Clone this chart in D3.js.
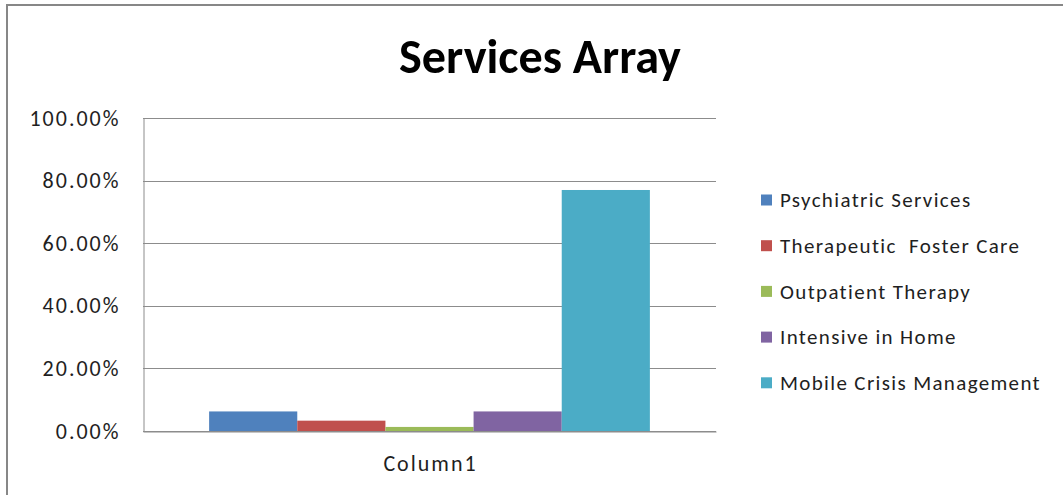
<!DOCTYPE html>
<html>
<head>
<meta charset="utf-8">
<script src="https://cdn.jsdelivr.net/npm/d3@7"></script>
<style>
  html, body { margin: 0; padding: 0; background: #fff; }
  svg { display: block; }
</style>
</head>
<body>
<svg id="chart" width="1063" height="495"></svg>
<script>
const title = "Services Array";
const category = "Column1";
const seriesNames = ["Psychiatric Services", "Therapeutic  Foster Care", "Outpatient Therapy", "Intensive in Home", "Mobile Crisis Management"];
const seriesValues = [0.0625, 0.033, 0.013, 0.0625, 0.77];
const seriesColors = ["#4f81bd", "#c0504d", "#9bbb59", "#8064a2", "#4bacc6"];
const yTicks = [0, 0.2, 0.4, 0.6, 0.8, 1.0];

const svg = d3.select("#chart");
const W = 1063, H = 495;
const plot = { left: 143, right: 716, top: 118, bottom: 431 };
const font = "Carlito, Calibri, 'Open Sans', 'Liberation Sans', sans-serif";
const textColor = "#1f1f1f";

// chart border (left and top visible)
svg.append("line").attr("x1", 7).attr("x2", 7).attr("y1", 4).attr("y2", H)
  .attr("stroke", "#878787").attr("stroke-width", 2);
svg.append("line").attr("x1", 6).attr("x2", W).attr("y1", 5).attr("y2", 5)
  .attr("stroke", "#878787").attr("stroke-width", 2);

const y = d3.scaleLinear().domain([0, 1]).range([plot.bottom, plot.top]);
const x0 = d3.scaleBand().domain([category]).range([plot.left, plot.right]).paddingInner(0).paddingOuter(0.15);
const x1 = d3.scaleBand().domain(seriesNames).range([0, x0.bandwidth()]).padding(0);

// gridlines
svg.append("g").selectAll("line").data(yTicks).join("line")
  .attr("x1", plot.left).attr("x2", plot.right)
  .attr("y1", d => Math.round(y(d)) + 0.5).attr("y2", d => Math.round(y(d)) + 0.5)
  .attr("stroke", "#8c8c8c").attr("stroke-width", 1);

// y axis
const yAxis = svg.append("g").attr("transform", `translate(${plot.left + 0.5},0)`)
  .call(d3.axisLeft(y).tickValues(yTicks).tickSize(0).tickPadding(23)
    .tickFormat(d => (d * 100).toFixed(2) + "%"));
yAxis.select(".domain").attr("stroke", "#8c8c8c");
yAxis.selectAll("text").attr("font-family", font).attr("font-size", 22)
  .attr("letter-spacing", 2).attr("fill", textColor);

// bars
svg.append("g").selectAll("rect").data(seriesNames).join("rect")
  .attr("x", (d) => x0(category) + x1(d))
  .attr("width", x1.bandwidth())
  .attr("y", (d, i) => y(seriesValues[i]))
  .attr("height", (d, i) => plot.bottom - y(seriesValues[i]))
  .attr("fill", (d, i) => seriesColors[i]);

// x axis
const xAxis = svg.append("g").attr("transform", `translate(0,${plot.bottom + 0.5})`)
  .call(d3.axisBottom(x0).tickSize(0).tickPadding(24));
xAxis.select(".domain").attr("stroke", "#8c8c8c");
xAxis.selectAll("text").attr("font-family", font).attr("font-size", 22)
  .attr("letter-spacing", 2).attr("dx", 1).attr("fill", textColor);

// title
const t = svg.append("text").attr("x", 540).attr("y", 73).attr("text-anchor", "middle")
  .attr("font-family", font).attr("font-weight", "bold").attr("font-size", 40)
  .attr("fill", "#000").text(title);
const tw = t.node().getComputedTextLength();
t.attr("font-size", 40 * 282 / tw);

// legend
const lg = svg.append("g");
const items = lg.selectAll("g").data(seriesNames).join("g")
  .attr("transform", (d, i) => `translate(761,${200 + i * 45.7})`);
items.append("rect").attr("x", 0).attr("y", -5.5).attr("width", 11).attr("height", 11)
  .attr("fill", (d, i) => seriesColors[i]);
items.append("text").attr("x", 19).attr("y", 0).attr("dy", "0.35em")
  .attr("font-family", font).attr("font-size", 21).attr("letter-spacing", 1.35)
  .attr("fill", textColor).style("white-space", "pre").text(d => d);
</script>
</body>
</html>
